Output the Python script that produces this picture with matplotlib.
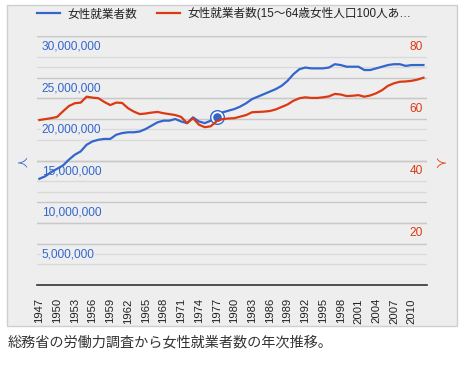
import matplotlib
matplotlib.use("Agg")
import matplotlib.pyplot as plt
from matplotlib.patches import Rectangle
from matplotlib.transforms import blended_transform_factory

plt.rcParams['font.family'] = ['Liberation Sans', 'Noto Sans CJK JP', 'DejaVu Sans']

# data
years = list(range(1947, 2013))
workers = [12.8, 13.1, 13.6, 14.0, 14.4, 15.1, 15.7, 16.1, 16.9, 17.3,
           17.5, 17.6, 17.6, 18.1, 18.3, 18.4, 18.4, 18.5, 18.8, 19.2,
           19.6, 19.8, 19.8, 20.0, 19.7, 19.5, 20.2, 19.7, 19.5, 19.8,
           20.3, 20.8, 21.0, 21.2, 21.5, 21.9, 22.4, 22.7, 23.0, 23.3,
           23.6, 24.0, 24.6, 25.4, 26.0, 26.2, 26.1, 26.1, 26.1, 26.2,
           26.6, 26.5, 26.3, 26.3, 26.3, 25.9, 25.9, 26.1, 26.3, 26.5,
           26.6, 26.6, 26.4, 26.5, 26.5, 26.5]
workers = [w * 1e6 for w in workers]
rate = [53.0, 53.3, 53.6, 54.0, 55.8, 57.5, 58.4, 58.6, 60.5, 60.2,
        60.0, 58.8, 57.8, 58.6, 58.5, 56.8, 55.7, 54.9, 55.1, 55.4,
        55.6, 55.2, 54.9, 54.6, 54.0, 52.0, 53.6, 51.5, 50.7, 51.0,
        52.6, 53.3, 53.5, 53.6, 54.1, 54.6, 55.5, 55.6, 55.7, 55.9,
        56.4, 57.2, 58.0, 59.2, 60.0, 60.3, 60.1, 60.1, 60.3, 60.6,
        61.4, 61.2, 60.7, 60.8, 61.0, 60.5, 60.9, 61.6, 62.6, 64.0,
        64.8, 65.3, 65.4, 65.6, 66.0, 66.6]
label_workers = "女性就業者数"
label_rate = "女性就業者数(15〜64歳女性人口100人あ…"
xtick_years = list(range(1947, 2011, 3))
left_ticks = [5e6, 10e6, 15e6, 20e6, 25e6, 30e6]
left_minor = [2.5e6, 7.5e6, 12.5e6, 17.5e6, 22.5e6, 27.5e6]
right_ticks = [20, 40, 60, 80]
right_minor = [10, 30, 50, 70]
selected_year = 1977
caption = "総務省の労働力調査から女性就業者数の年次推移。"

blue = '#3366cc'
red = '#dc3912'
bg = '#eeeeee'
W, H = 468, 366

fig = plt.figure(figsize=(W / 100, H / 100), dpi=100)
fig.patch.set_facecolor('white')
fig.patches.append(Rectangle((7 / W, 1 - 326 / H), 450 / W, 321 / H,
                             transform=fig.transFigure, facecolor=bg,
                             edgecolor='#cfcfcf', lw=1, zorder=-5))

ax = fig.add_axes([37 / W, 1 - 285 / H, 390 / W, 249 / H])
ax.set_facecolor('none')
ax2 = ax.twinx()
ax.set_xlim(1946.6, 2012.6)
ax.set_ylim(0, 30e6)
ax2.set_ylim(0, 80)

# gridlines (all on the first axes so the labels can sit on top)
rtrans = blended_transform_factory(ax.transAxes, ax2.transData)
for v in left_minor:
    ax.axhline(v, color='#dadada', lw=1, zorder=0)
for v in right_minor:
    ax.plot([0, 1], [v, v], transform=rtrans, color='#dadada', lw=1, zorder=0)
for v in left_ticks:
    ax.axhline(v, color='#c8c8c8', lw=1, zorder=0)
for v in right_ticks:
    ax.plot([0, 1], [v, v], transform=rtrans, color='#c8c8c8', lw=1, zorder=0)

ax.plot(years, workers, color=blue, lw=1.6, zorder=3, label=label_workers)
ax2.plot(years, rate, color=red, lw=1.6, zorder=3, label=label_rate)

# highlighted point
sv = workers[years.index(selected_year)]
ax.plot([selected_year], [sv], 'o', ms=9.8, mfc='white', mec=blue, mew=1.0, zorder=5)
ax.plot([selected_year], [sv], 'o', ms=6.2, mfc=blue, mec=blue, mew=0, zorder=6)

for a in (ax, ax2):
    for s in a.spines.values():
        s.set_visible(False)
ax.spines['bottom'].set_visible(True)
ax.spines['bottom'].set_color('#333333')
ax.spines['bottom'].set_linewidth(1.2)

ax.set_yticks([])
ax2.set_yticks([])
ax.set_xticks(xtick_years)
ax.set_xticklabels([str(y) for y in xtick_years], rotation=90, fontsize=8.1,
                   color='#222222', va='top')
ax.tick_params(axis='x', length=0, pad=9.5)

box = dict(facecolor=bg, edgecolor='none', pad=0.3)
for v in left_ticks:
    ax.annotate(f"{int(v):,}", xy=(0, v), xycoords=ax.get_yaxis_transform(),
                xytext=(4.7, -10.7), textcoords='offset pixels',
                ha='left', va='center', fontsize=8.6, color=blue,
                bbox=box, zorder=1)
for v in right_ticks:
    ax.annotate(str(v), xy=(1, v), xycoords=rtrans,
                xytext=(-4.3, -10.7), textcoords='offset pixels',
                ha='right', va='center', fontsize=8.6, color=red,
                bbox=box, zorder=1)

fig.text(23 / W, 1 - 162 / H, "人", rotation=90, color=blue, fontsize=7.5,
         ha='center', va='center')
fig.text(440 / W, 1 - 162 / H, "人", rotation=-90, color=red, fontsize=7.5,
         ha='center', va='center')

h1, l1 = ax.get_legend_handles_labels()
h2, l2 = ax2.get_legend_handles_labels()
fig.legend(h1 + h2, l1 + l2, loc='center left', bbox_to_anchor=(37 / W, 1 - 14 / H),
           ncol=2, frameon=False, fontsize=8.4, handlelength=2.0, handletextpad=0.6,
           columnspacing=1.7, borderpad=0, borderaxespad=0, labelcolor='#222222')

fig.text(8 / W, 1 - 342 / H, caption, fontsize=10.2, color='#333333',
         ha='left', va='center')

fig.savefig("out.png", dpi=100, facecolor='white')
